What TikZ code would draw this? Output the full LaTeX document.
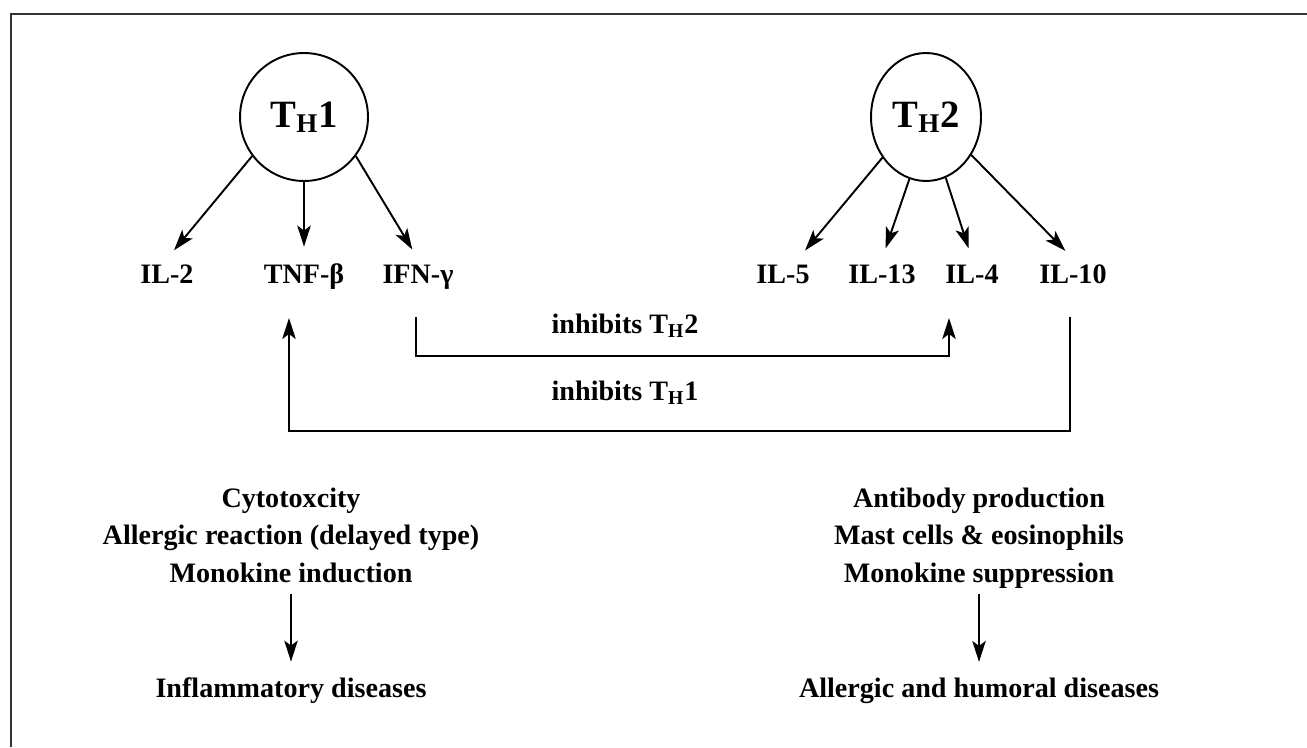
\documentclass[tikz,border=0pt]{standalone}
\usepackage{fontspec}
\setmainfont{Liberation Serif}
\usetikzlibrary{arrows.meta,shapes.geometric}
\newcommand{\thcell}[1]{T\textsubscript{H}#1}

\begin{document}
\begin{tikzpicture}[x=0.02cm,y=-0.02cm,
    >={Stealth[length=0.42cm,width=0.27cm,inset=0.1cm]},
    every node/.style={font=\fontsize{16}{19}\selectfont\bfseries},
    cell/.style={draw,line width=1.1pt,inner sep=0pt,font=\fontsize{22}{26}\selectfont\bfseries},
    lab/.style={anchor=base,inner sep=3pt},
    effect/.style={align=center,inner sep=0pt,font=\fontsize{16}{21.3}\selectfont\bfseries},
    link/.style={->,line width=1.1pt,shorten >=0.22cm}]
  \useasboundingbox (0,0) rectangle (1307,747);
  \draw[line width=0.8pt,black!80] (11,747) -- (11,14) -- (1307,14);

  % helper T cells
  \node[cell,circle,minimum size=2.56cm] (th1) at (304,117) {\thcell{1}};
  \node[cell,ellipse,minimum width=2.2cm,minimum height=2.56cm] (th2) at (926,117) {\thcell{2}};

  % cytokines
  \node[lab] (il2) at (167,283) {IL-2};
  \node[lab] (tnfb) at (304,283) {TNF-β};
  \node[lab] (ifng) at (418,283) {IFN-γ};
  \node[lab] (il5) at (783,283) {IL-5};
  \node[lab] (il13) at (882,283) {IL-13};
  \node[lab] (il4) at (972,283) {IL-4};
  \node[lab] (il10) at (1073,283) {IL-10};

  \draw[link] (th1.-143) -- (il2.north);
  \draw[link] (th1.south) -- (tnfb.north);
  \draw[link] (th1.-37) -- (ifng.north);
  \draw[link] (th2.-137) -- ([xshift=0.3cm]il5.north);
  \draw[link] (th2.-105) -- (il13.north);
  \draw[link] (th2.-72) -- (il4.north);
  \draw[link] (th2.-40) -- (il10.north);

  % cross inhibition
  \coordinate (gout) at (416,317);
  \coordinate (gin) at (949,318);
  \coordinate (fourout) at (1070,317);
  \coordinate (fourin) at (289,318);
  \draw[link,shorten >=0pt] (gout) -- ++(0,39) -| (gin);
  \draw[link,shorten >=0pt] (fourout) -- ++(0,114) -| (fourin);
  \node[lab] (inh2) at (625,333) {inhibits \thcell{2}};
  \node[lab] (inh1) at (625,400) {inhibits \thcell{1}};

  % effects and diseases
  \node[effect] (eff1) at (291,535) {Cytotoxcity\\Allergic reaction (delayed type)\\Monokine induction};
  \node[effect] (eff2) at (979,538) {Antibody production\\Mast cells \& eosinophils\\Monokine suppression};
  \node[lab] (dis1) at (291,697) {Inflammatory diseases};
  \node[lab] (dis2) at (979,697) {Allergic and humoral diseases};
  \draw[->,line width=0.8pt,shorten <=0.22cm,shorten >=0.2cm] (eff1) -- (dis1);
  \draw[->,line width=0.8pt,shorten <=0.1cm,shorten >=0.2cm] (eff2) -- (dis2);
\end{tikzpicture}
\end{document}
